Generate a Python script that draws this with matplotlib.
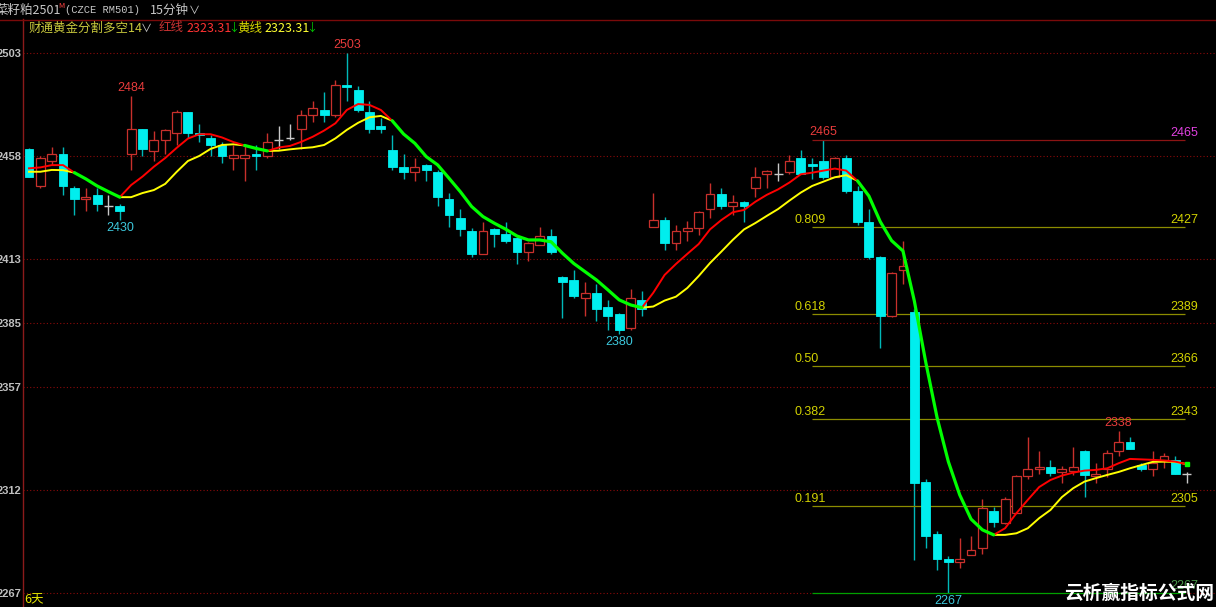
#!/usr/bin/env python3
# -*- coding: utf-8 -*-

# Import packages
import numpy as np
import matplotlib
matplotlib.use("Agg")
import matplotlib.pyplot as plt
from matplotlib.lines import Line2D

# DATA (15 minute candles of 菜籽粕2501)
opens = [2461, 2445, 2456, 2459, 2444, 2439, 2441, 2436, 2436, 2459,
         2470, 2460, 2465, 2468, 2477, 2468, 2466, 2463, 2457, 2457,
         2459, 2458, 2465, 2466, 2470, 2476, 2478, 2476, 2489, 2487,
         2477, 2471, 2460.5, 2453, 2451, 2454, 2451, 2439, 2431, 2425,
         2415, 2426, 2424, 2422, 2416, 2419, 2423, 2405, 2404, 2396,
         2398, 2392, 2389, 2383, 2395, 2427, 2430, 2420, 2425, 2426.5,
         2435, 2441.5, 2436, 2438, 2444, 2450, 2450, 2451, 2457, 2454.5,
         2456, 2449, 2457, 2442.5, 2429, 2414, 2388, 2408, 2390, 2315.5,
         2293, 2282, 2280.5, 2283.5, 2286.5, 2303, 2297.5, 2302, 2318, 2321,
         2322, 2320, 2320.5, 2329, 2318, 2321, 2329, 2333, 2323, 2321,
         2325, 2325, 2319]
highs = [2461.5, 2458, 2462, 2462, 2445, 2444, 2444, 2441, 2437, 2484,
         2470, 2469, 2470, 2478, 2477, 2472, 2467, 2464, 2463, 2463,
         2463, 2468, 2471, 2472, 2478, 2482, 2486, 2491, 2503, 2488.5,
         2482, 2474.5, 2467, 2459, 2457, 2454.5, 2452, 2442, 2435, 2426.5,
         2429, 2426.5, 2429, 2422.5, 2420.5, 2427, 2426, 2405.5, 2408, 2403,
         2402, 2395, 2389.5, 2400, 2399, 2442, 2431.5, 2428, 2429.5, 2434,
         2446, 2444, 2441, 2438.5, 2453, 2452, 2455, 2458.5, 2460.5, 2457,
         2465, 2457.5, 2458.5, 2445, 2435, 2414.5, 2407.5, 2421, 2391, 2317,
         2294, 2283, 2291, 2292, 2308, 2304.5, 2309, 2318.5, 2335, 2329,
         2325, 2322.5, 2331, 2329.5, 2324, 2329.5, 2338, 2335, 2324, 2329,
         2328, 2327, 2320]
lows = [2449, 2444, 2454, 2441, 2432, 2434, 2434, 2432, 2430, 2452,
        2458, 2456, 2459, 2463, 2466, 2464, 2458, 2455, 2452, 2447,
        2452, 2457, 2461, 2465, 2461, 2473, 2473, 2475, 2482, 2477,
        2468, 2468, 2452, 2448, 2447, 2447, 2436, 2427, 2423, 2414,
        2415, 2418, 2420, 2411, 2412, 2419, 2415, 2387, 2396, 2388,
        2386, 2382, 2380, 2382, 2388, 2427, 2417, 2417, 2421, 2423.5,
        2431, 2435, 2432, 2429, 2440, 2444, 2447, 2450, 2450, 2448,
        2448, 2449, 2442, 2428, 2413, 2374, 2387.5, 2402, 2281.5, 2286.5,
        2277, 2267, 2278, 2283.5, 2284, 2296, 2297, 2302, 2317, 2319,
        2318, 2315, 2318.5, 2309, 2315, 2317.5, 2327, 2330, 2320.5, 2318,
        2321.5, 2319, 2315]
closes = [2449, 2457, 2459, 2445, 2439, 2440, 2437, 2436, 2434, 2470,
          2461, 2465, 2469.5, 2477, 2468, 2467, 2463, 2458, 2458.5, 2458.5,
          2458, 2464, 2465, 2466, 2476, 2479, 2476, 2489, 2488, 2478,
          2470, 2470, 2453, 2451, 2453, 2452, 2440, 2432, 2426, 2415,
          2425, 2424, 2421, 2416, 2420, 2423, 2416, 2403, 2397, 2398,
          2391, 2388, 2382, 2396, 2391, 2430, 2420, 2425, 2426.5, 2433.5,
          2441.5, 2436, 2438, 2436, 2449, 2451.5, 2450, 2456, 2450, 2453.5,
          2449, 2457, 2442.5, 2429, 2414, 2388, 2407, 2410, 2315, 2292,
          2282, 2280.5, 2282, 2286, 2304, 2298, 2308, 2318, 2321, 2322,
          2319.5, 2321, 2322, 2318.5, 2319, 2328, 2333, 2330, 2321, 2324,
          2327, 2319, 2319]

# 财通黄金分割多空 indicator: red line, yellow line, green (merged, falling) line
red_line = [2452.6, 2453, 2454, 2454, 2450.7, None, None, None, 2440, 2445.3,
            2449, 2453.3, 2457.1, 2461.5, 2465.6, 2467.5, 2467.5, 2466.1, 2464.1, 2462.6,
            None, 2460.2, 2461.7, 2462.4, 2464.2, 2466.4, 2469.1, 2472.3, 2478.1, 2480.7,
            2480.3, 2478.1, 2473.4, None, None, None, None, None, None, None,
            None, None, None, None, None, None, None, None, None, None,
            None, None, None, None, 2391.7, 2398.2, 2406, 2410.8, 2415.2, 2419.5,
            2425.9, 2430, 2433.4, 2434.4, 2438, 2441, 2443.4, 2446.4, 2450, 2450.7,
            2451.6, 2452.5, 2451.6, 2447.1, None, None, None, None, None, None,
            None, None, None, None, None, 2292.4, 2295.3, 2301.9, 2307.7, 2313.3,
            2316.4, 2318.3, 2319.6, 2320.5, 2320.8, 2321.5, 2323.7, 2325.6, 2325.4, 2325.2,
            2324.9, 2324.4, 2323.31]
yellow_line = [2451.1, 2451.1, 2451.9, 2451.8, 2450.7, None, None, None, 2440, 2440,
               2441.8, 2443.1, 2445.8, 2451, 2455.8, 2458, 2461.1, 2462.8, 2463.1, 2462.6,
               None, 2460.2, 2460.3, 2460.9, 2461.4, 2461.8, 2462.8, 2465.7, 2469.4, 2472.5,
               2474.9, 2475.5, 2473.4, None, None, None, None, None, None, None,
               None, None, None, None, None, None, None, None, None, None,
               None, None, None, None, 2391.7, 2392.2, 2394.8, 2396.5, 2400.3, 2405.5,
               2411.2, 2416.2, 2421.3, 2425.9, 2428.7, 2431.8, 2434.8, 2438.5, 2442, 2444.9,
               2446.8, 2448.7, 2449.6, 2447.1, None, None, None, None, None, None,
               None, None, None, None, None, 2292.4, 2292.4, 2293.1, 2295.3, 2299.7,
               2303.3, 2308.9, 2312.8, 2315.7, 2317.2, 2318.6, 2319.9, 2321.5, 2322.9, 2324.3,
               2324.4, 2324.3, 2323.31]
green_line = [None, None, None, None, 2450.7, 2448, 2444.9, 2442.4, 2440, None,
              None, None, None, None, None, None, None, None, None, 2462.6,
              2461.3, 2460.2, None, None, None, None, None, None, None, None,
              None, None, 2473.4, 2467.6, 2463.5, 2457.7, 2454.1, 2448.3, 2442.4, 2435.9,
              2431.5, 2428.6, 2426, 2423, 2421.3, 2421.3, 2420.5, 2415.5, 2411, 2407.4,
              2403.8, 2399.5, 2395.1, 2392.9, 2391.7, None, None, None, None, None,
              None, None, None, None, None, None, None, None, None, None,
              None, None, None, 2447.1, 2440.5, 2429.3, 2421, 2416.5, 2394.7, 2368.1,
              2343.8, 2324.4, 2309.9, 2299.3, 2294.6, 2292.4, None, None, None, None,
              None, None, None, None, None, None, None, None, None, None,
              None, None, None]

grid_levels = [2503, 2458, 2413, 2385, 2357, 2312, 2267]
fib_ratios = ["", "0.809", "0.618", "0.50", "0.382", "0.191", ""]
fib_values = [2465, 2427, 2389, 2366, 2343, 2305, 2267]
high_marks = [9, 28, 70, 96]
low_marks = [8, 52, 81]

# STYLE
W, H = 1216, 607
CJK = ["Noto Sans CJK SC", "DejaVu Sans"]
CYAN = "#00eeee"
CYAN_WICK = "#00b8b8"
RED = "#c8302c"
GRID_RED = "#8b0a0a"
plt.rcParams["font.family"] = ["Liberation Sans", "Noto Sans CJK SC", "DejaVu Sans"]

fig = plt.figure(figsize=(W / 100, H / 100), dpi=100, facecolor="black")
ax = fig.add_axes([23 / W, 0, (W - 23) / W, (H - 19) / H])
ax.set_facecolor("black")

# pixel mapping: candle i sits at 29 + 11.35 * i, price 2503 at y=53, 2.288 px per point
ax.set_xlim((23 - 29) / 11.35, (W - 29) / 11.35)
ax.set_ylim(2503 - (H - 53) / 2.28814, 2503 + (53 - 19) / 2.28814)

# grid
for lvl in grid_levels:
    ax.axhline(lvl, color=GRID_RED, lw=0.8, ls=(0, (1, 2)), zorder=1)

# candles
o = np.array(opens, dtype=float)
h = np.array(highs, dtype=float)
l = np.array(lows, dtype=float)
c = np.array(closes, dtype=float)
x = np.arange(len(o))
up = c > o
down = c < o
flat = c == o
bw = 0.78

ax.vlines(x[down], l[down], h[down], color=CYAN_WICK, lw=1, zorder=2)
ax.bar(x[down], o[down] - c[down], bottom=c[down], width=bw, color=CYAN,
       edgecolor=CYAN, lw=0.6, zorder=3)
ax.vlines(x[up], l[up], h[up], color=RED, lw=1, zorder=2)
ax.bar(x[up], c[up] - o[up], bottom=o[up], width=bw, facecolor="black",
       edgecolor=RED, lw=0.9, zorder=3)
ax.vlines(x[flat], l[flat], h[flat], color="#c8c8c8", lw=1, zorder=2)
ax.hlines(o[flat], x[flat] - bw / 2, x[flat] + bw / 2, color="#c8c8c8", lw=1, zorder=3)

# indicator lines
red_arr = np.array(red_line, dtype=float)
yel_arr = np.array(yellow_line, dtype=float)
grn_arr = np.array(green_line, dtype=float)
ax.plot(x, yel_arr, color="#ffff00", lw=1.4, zorder=4)
ax.plot(x, red_arr, color="#ff0000", lw=1.4, zorder=5)
ax.plot(x, grn_arr, color="#00ff00", lw=2.3, zorder=6, solid_capstyle="round")
ax.plot(x[-1], yel_arr[-1], "s", color="#00ff00", ms=2.5, zorder=7)

# high / low marks
for i in high_marks:
    ax.annotate(f"{highs[i]:.0f}", (i, highs[i]), xytext=(0, 8), textcoords="offset pixels",
                ha="center", va="center", color="#e83c3c", fontsize=9, zorder=8)
for i in low_marks:
    ax.annotate(f"{lows[i]:.0f}", (i, lows[i]), xytext=(0, -8), textcoords="offset pixels",
                ha="center", va="center", color="#3cc8dc", fontsize=9, zorder=8)

# golden split lines
fib_x0, fib_x1 = (812 - 29) / 11.35, (1185 - 29) / 11.35
lab_left, lab_right = (795 - 29) / 11.35, (1198 - 29) / 11.35
for k, (ratio, val) in enumerate(zip(fib_ratios, fib_values)):
    if k == 0:
        line_col, lab_col = "#8b1414", "#e040e0"
    elif k == len(fib_values) - 1:
        line_col, lab_col = "#00a000", "#4a9a4a"
    else:
        line_col, lab_col = "#8c8c00", "#d2d200"
    ax.hlines(val, fib_x0, fib_x1, color=line_col, lw=0.9, zorder=2)
    if ratio:
        ax.annotate(ratio, (lab_left, val), xytext=(0, 7), textcoords="offset pixels",
                    ha="left", va="center", color=lab_col, fontsize=9)
    ax.annotate(f"{val}", (lab_right, val), xytext=(0, 7), textcoords="offset pixels",
                ha="right", va="center", color=lab_col, fontsize=9)

# axes frame
ax.set_xticks([])
ax.set_yticks(grid_levels)
ax.set_yticklabels([str(v) for v in grid_levels], fontweight="bold")
ax.tick_params(axis="y", length=0, pad=1.2, labelcolor="#c0c0c0", labelsize=8)
for side in ["top", "right", "bottom"]:
    ax.spines[side].set_visible(False)
ax.spines["left"].set_color("#8b1a1a")
ax.spines["left"].set_linewidth(1)
fig.add_artist(Line2D([0, 1], [1 - 19.5 / H, 1 - 19.5 / H], color="#7a0a0a", lw=1))


def put(px, py, s, color, size=9, ha="left", family=None, weight="normal"):
    fig.text(px / W, 1 - py / H, s, color=color, fontsize=size, ha=ha, va="center",
             family=family or CJK, weight=weight, zorder=9)


# header
put(-4, 10, "菜籽粕2501", "#c8c8c8")
put(58, 6, "M", "#ff4040", size=5.5)
put(65, 10, "(CZCE RM501)", "#c8c8c8", size=7.5, family=["Liberation Mono"])
put(150, 10, "15分钟", "#c8c8c8")
put(189, 11, "∨", "#c8c8c8", size=8)
put(29, 28, "财通黄金分割多空14", "#c8c83c")
put(141, 29, "∨", "#c8c8c8", size=8)
put(159, 28, "红线", "#c83232")
put(186, 28, f"{red_line[-1]:.2f}", "#ff3232")
put(228, 28, "↓", "#00c800", size=8)
put(237, 28, "黄线", "#d8d800")
put(264, 28, f"{yellow_line[-1]:.2f}", "#ffff32")
put(306, 28, "↓", "#00c800", size=8)

# footer
put(24, 600, "6天", "#e6e600")
put(1139, 593, "云析赢指标公式网", "white", size=13.5, ha="center", weight="bold")

fig.savefig("out.png", dpi=100, facecolor="black")
